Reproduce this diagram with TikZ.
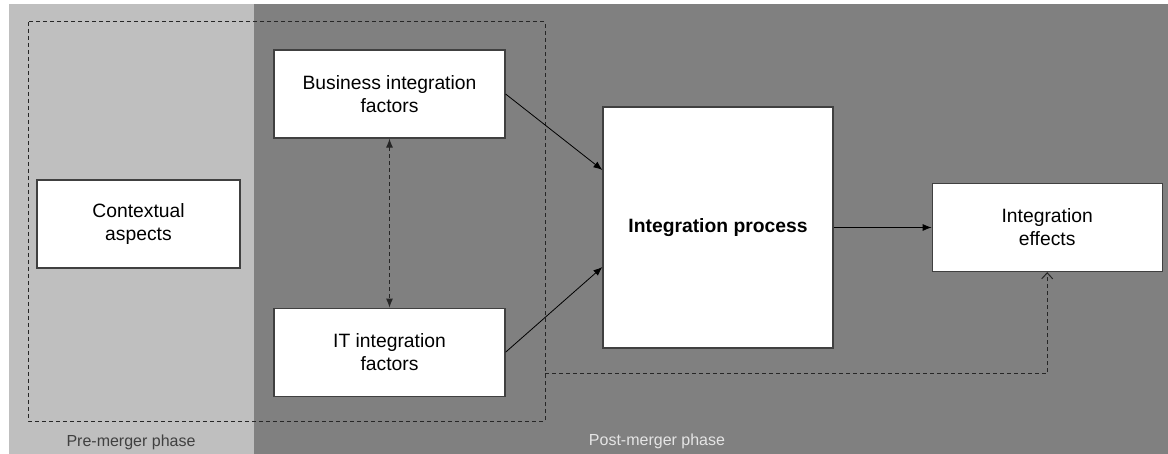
\documentclass[tikz,border=0pt]{standalone}
\usepackage{fontspec}
\setmainfont{Liberation Sans}
\usetikzlibrary{arrows.meta,positioning}

\begin{document}
\begin{tikzpicture}[
  x=1pt, y=-1pt,
  font=\fontsize{19.3}{23}\selectfont,
  box/.style={draw=black!75, line width=1.2pt, fill=white, align=center,
    inner sep=0pt, minimum height=88pt, minimum width=231pt},
  flow/.style={-{Latex[length=9pt,width=7pt]}, line width=0.8pt, draw=black},
  link/.style={line width=1pt, draw=black!85, dash pattern=on 4pt off 3pt},
  phase/.style={font=\fontsize{16}{19}\selectfont}
]
% phase backgrounds
\fill[white] (0,0) rectangle (1168,454);
\fill[black!25] (9,4) rectangle (254,454);
\fill[black!50] (254,4) rectangle (1168,454);

% factors and process
\node[box, minimum width=203pt] (ctx) at (138.5,224) {Contextual\\aspects};
\node[box] (biz) at (389.5,94) {Business integration\\factors};
\node[box, below=169pt of biz] (itf) {IT integration\\factors};
\node[box, minimum width=230pt, minimum height=241pt] (proc) at (718,227.5)
  {\bfseries Integration process};
\node[box, minimum width=230pt, right=98pt of proc] (eff) {Integration\\effects};

% pre-merger frame
\coordinate (frame nw) at (28,22);
\coordinate (frame se) at (545,421);
\coordinate (feedback) at (545,374);
\draw[link] (frame nw) rectangle (frame se);

\draw[flow] (biz.east) -- ([yshift=57.5pt]proc.west);
\draw[flow] (itf.east) -- ([yshift=-39.5pt]proc.west);
\draw[flow] (proc) -- (eff);
\draw[link, {Latex[length=9pt,width=7pt]}-{Latex[length=9pt,width=7pt]}] (biz) -- (itf);
\draw[link, -{Straight Barb[length=6pt,width=11pt]}] (feedback) -| (eff.south);

\node[phase, text=black!75] (pre) at (131,442) {Pre-merger phase};
\node[phase, text=black!10] (post) at (657,441) {Post-merger phase};
\end{tikzpicture}
\end{document}
